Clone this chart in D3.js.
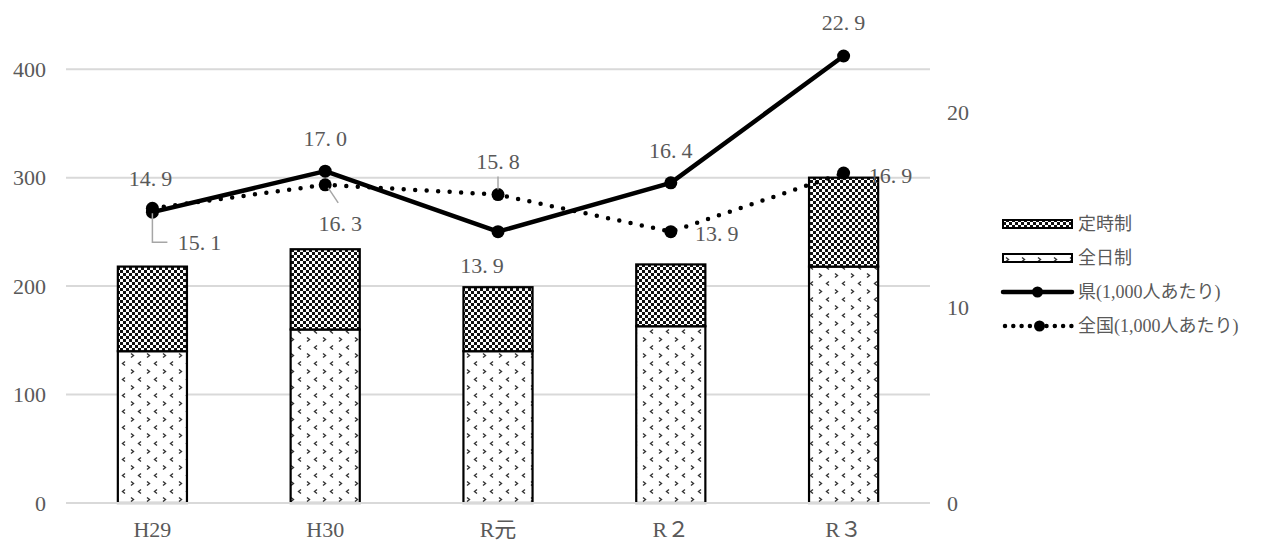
<!DOCTYPE html>
<html lang="ja">
<head>
<meta charset="utf-8">
<script src="https://cdn.jsdelivr.net/npm/d3@7"></script>
<style>
  html, body { margin: 0; padding: 0; background: #fff; }
  svg { display: block; }
  svg text { font-family: 'Liberation Serif', 'DejaVu Serif', 'Noto Sans CJK JP', serif; fill: #595959; }
</style>
</head>
<body>
<svg id="chart" width="1261" height="545"></svg>
<script>
// 年度
const categories = ["H29", "H30", "R元", "R２", "R３"];
// 全日制・定時制 (件数)
const zenjitsu = [140, 160, 140, 163, 218];
const teiji = [78, 74, 59, 57, 82];
// 1,000人あたり
const ken = [14.9, 17.0, 13.9, 16.4, 22.9];
const zenkoku = [15.1, 16.3, 15.8, 13.9, 16.9];
// 軸目盛
const leftTicks = [0, 100, 200, 300, 400];
const rightTicks = [0, 10, 20];
// 凡例
const legendLabels = ["定時制", "全日制", "県(1,000人あたり)", "全国(1,000人あたり)"];

const SERIF = "'Liberation Serif', 'DejaVu Serif', 'Noto Sans CJK JP', serif";

const svg = d3.select("#chart");
const plot = { left: 66, right: 930, top: 15, bottom: 503 };

const x = d3.scaleBand().domain(categories)
  .range([plot.left, plot.right]).paddingInner(0.6).paddingOuter(0.3);
const yL = d3.scaleLinear().domain([0, 450]).range([plot.bottom, plot.top]);
const yR = d3.scaleLinear().domain([0, 25]).range([plot.bottom, plot.top]);
const cx = c => x(c) + x.bandwidth() / 2;

// パターン定義
const defs = svg.append("defs");
const checker = defs.append("pattern").attr("id", "pTeiji")
  .attr("patternUnits", "userSpaceOnUse").attr("width", 6).attr("height", 6);
checker.append("rect").attr("width", 6).attr("height", 6).attr("fill", "#fff");
checker.append("rect").attr("width", 3).attr("height", 3).attr("fill", "#111");
checker.append("rect").attr("x", 3).attr("y", 3).attr("width", 3).attr("height", 3).attr("fill", "#111");

const dots = defs.append("pattern").attr("id", "pZen")
  .attr("patternUnits", "userSpaceOnUse").attr("width", 16).attr("height", 16);
dots.append("rect").attr("width", 16).attr("height", 16).attr("fill", "#fff");
dots.append("path").attr("d", "M3,1.5 L5.5,3.5 L3,5.5").attr("fill", "none")
  .attr("stroke", "#333").attr("stroke-width", 1.4);
dots.append("path").attr("d", "M13,9.5 L10.5,11.5 L13,13.5").attr("fill", "none")
  .attr("stroke", "#333").attr("stroke-width", 1.4);

// 目盛線
svg.append("g").selectAll("line").data(leftTicks).join("line")
  .attr("x1", plot.left).attr("x2", plot.right)
  .attr("y1", d => yL(d)).attr("y2", d => yL(d))
  .attr("stroke", "#d9d9d9").attr("stroke-width", 2);

function styleTicks(g) {
  g.select(".domain").remove();
  g.attr("font-family", null).attr("font-size", null);
  g.selectAll("text").style("font-family", SERIF).style("font-size", "22px").style("fill", "#595959");
}

// 左軸
svg.append("g").attr("transform", `translate(${plot.left - 20},0)`)
  .call(d3.axisLeft(yL).tickValues(leftTicks).tickSize(0).tickPadding(0))
  .call(styleTicks);

// 右軸
svg.append("g").attr("transform", `translate(${plot.right + 17},0)`)
  .call(d3.axisRight(yR).tickValues(rightTicks).tickSize(0).tickPadding(0))
  .call(styleTicks);

// 積み上げ棒
const stackData = categories.map((c, i) => ({ c, zen: zenjitsu[i], tei: teiji[i] }));
const bars = svg.append("g");
bars.selectAll("rect.zen").data(stackData).join("rect").attr("class", "zen")
  .attr("x", d => x(d.c)).attr("width", x.bandwidth())
  .attr("y", d => yL(d.zen)).attr("height", d => yL(0) - yL(d.zen))
  .attr("fill", "url(#pZen)").attr("stroke", "#000").attr("stroke-width", 2.2);
bars.selectAll("rect.tei").data(stackData).join("rect").attr("class", "tei")
  .attr("x", d => x(d.c)).attr("width", x.bandwidth())
  .attr("y", d => yL(d.zen + d.tei)).attr("height", d => yL(d.zen) - yL(d.zen + d.tei))
  .attr("fill", "url(#pTeiji)").attr("stroke", "#000").attr("stroke-width", 2.2);

// 横軸
svg.append("line").attr("x1", plot.left).attr("x2", plot.right)
  .attr("y1", yL(0)).attr("y2", yL(0)).attr("stroke", "#d9d9d9").attr("stroke-width", 2);
svg.append("g").attr("transform", `translate(0,${plot.bottom + 34})`)
  .call(d3.axisBottom(x).tickSize(0).tickPadding(0))
  .call(styleTicks)
  .call(g => g.selectAll("text").attr("dy", 0));

// 折れ線
const line = d3.line().x((d, i) => cx(categories[i])).y(d => yR(d));
svg.append("path").datum(zenkoku).attr("d", line).attr("fill", "none")
  .attr("stroke", "#000").attr("stroke-width", 4.5)
  .attr("stroke-dasharray", "0 11.5").attr("stroke-linecap", "round");
svg.append("path").datum(ken).attr("d", line).attr("fill", "none")
  .attr("stroke", "#000").attr("stroke-width", 4.5).attr("stroke-linejoin", "round");
svg.append("g").selectAll("circle").data(zenkoku).join("circle")
  .attr("cx", (d, i) => cx(categories[i])).attr("cy", d => yR(d)).attr("r", 6.5).attr("fill", "#000");
svg.append("g").selectAll("circle").data(ken).join("circle")
  .attr("cx", (d, i) => cx(categories[i])).attr("cy", d => yR(d)).attr("r", 6.5).attr("fill", "#000");

// データラベル (点からのずれ)
const kenOffsets = [[-2, -34], [0, -33], [-16, 33], [0, -33], [0, -34]];
const zenOffsets = [[47, 34], [15, 38], [0, -34], [46, 1], [47, 2]];

function valueLabel(g, v, px, py) {
  const s = v.toFixed(1).split(".");
  const t = g.append("text").attr("x", px).attr("y", py)
    .attr("text-anchor", "middle").attr("dominant-baseline", "central")
    .style("font-family", SERIF).style("font-size", "22px");
  t.append("tspan").text(s[0] + ".");
  t.append("tspan").attr("dx", 5).text(s[1]);
}
const labels = svg.append("g");
ken.forEach((v, i) => valueLabel(labels, v, cx(categories[i]) + kenOffsets[i][0], yR(v) + kenOffsets[i][1]));
zenkoku.forEach((v, i) => valueLabel(labels, v, cx(categories[i]) + zenOffsets[i][0], yR(v) + zenOffsets[i][1]));

// 引き出し線
const leader = svg.append("g").attr("fill", "none").attr("stroke", "#a6a6a6").attr("stroke-width", 1.5);
{
  const p0 = [cx(categories[0]), yR(zenkoku[0])];
  leader.append("path").attr("d", `M${p0[0]},${p0[1] + 5} V${p0[1] + 34} H${p0[0] + 15}`);
  const p1 = [cx(categories[1]), yR(zenkoku[1])];
  leader.append("path").attr("d", `M${p1[0] + 3},${p1[1] + 3} L${p1[0] + 13},${p1[1] + 18}`);
  const p2 = [cx(categories[2]), yR(zenkoku[2])];
  leader.append("path").attr("d", `M${p2[0]},${p2[1] - 18} V${p2[1] - 5}`);
}

// 凡例
const lg = svg.append("g").attr("transform", "translate(1003,0)");
const rowY = [224, 258, 292, 326];
const sw = 69;
lg.append("rect").attr("x", 0).attr("y", rowY[0] - 4).attr("width", sw).attr("height", 8)
  .attr("fill", "url(#pTeiji)").attr("stroke", "#000").attr("stroke-width", 2);
lg.append("rect").attr("x", 0).attr("y", rowY[1] - 4).attr("width", sw).attr("height", 8)
  .attr("fill", "url(#pZen)").attr("stroke", "#000").attr("stroke-width", 2);
lg.append("line").attr("x1", 0).attr("x2", sw).attr("y1", rowY[2]).attr("y2", rowY[2])
  .attr("stroke", "#000").attr("stroke-width", 4.5).attr("stroke-linecap", "round");
lg.append("circle").attr("cx", sw / 2).attr("cy", rowY[2]).attr("r", 5.5).attr("fill", "#000");
lg.append("line").attr("x1", 2).attr("x2", sw).attr("y1", rowY[3]).attr("y2", rowY[3])
  .attr("stroke", "#000").attr("stroke-width", 4.5).attr("stroke-linecap", "round")
  .attr("stroke-dasharray", "0 8.3");
lg.append("circle").attr("cx", sw / 2 + 2).attr("cy", rowY[3]).attr("r", 5.5).attr("fill", "#000");
lg.selectAll("text").data(legendLabels).join("text")
  .attr("x", sw + 6).attr("y", (d, i) => rowY[i]).attr("dominant-baseline", "central")
  .style("font-family", SERIF).style("font-size", "18px").text(d => d);
</script>
</body>
</html>
